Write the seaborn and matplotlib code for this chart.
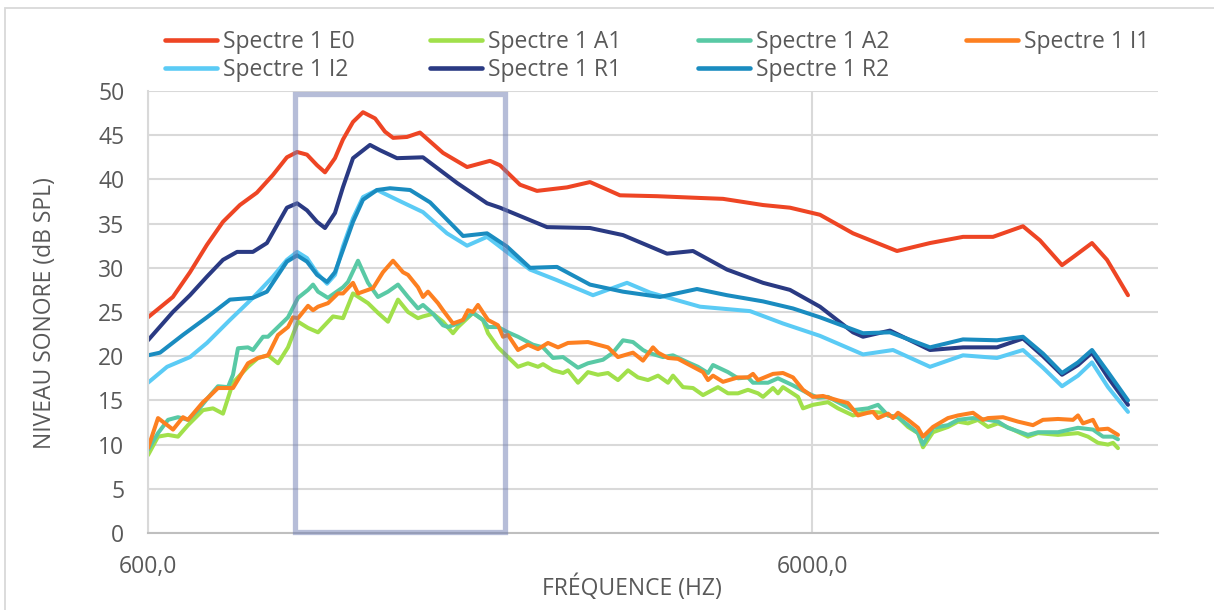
import numpy as np
import pandas as pd
import matplotlib
matplotlib.use("Agg")
import matplotlib.pyplot as plt
import seaborn as sns
from matplotlib.patches import Rectangle
from matplotlib.ticker import NullLocator

# ---------------- data ----------------
series_names = ["Spectre 1 E0", "Spectre 1 A1", "Spectre 1 A2", "Spectre 1 I1",
                "Spectre 1 I2", "Spectre 1 R1", "Spectre 1 R2"]
series_colors = ["#EE4524", "#A1E04B", "#59C9A5", "#FD8021",
                 "#5BCBF5", "#2A3A83", "#1A8CC0"]

e0_freq = [600, 654, 694, 736, 778, 825, 875, 925, 971, 1006, 1041, 1078, 1108, 1147, 1179,
           1221, 1264, 1318, 1364, 1403, 1472, 1540,
           1668, 1813, 1963, 2032, 2178, 2310, 2564, 2776, 3080, 3502, 4065, 4402, 5057,
           5552, 6160, 6907, 8045, 9020, 10113, 11220, 12449, 13205, 14253, 14805, 15813,
           16658, 17245, 17914]
e0_level = [24.4, 26.7, 29.5, 32.6, 35.2, 37.1, 38.5, 40.5, 42.5, 43.1, 42.8, 41.6, 40.8, 42.4, 44.5,
            46.5, 47.6, 46.9, 45.4, 44.7, 44.8, 45.3,
            43.0, 41.4, 42.1, 41.6, 39.4, 38.7, 39.1, 39.7, 38.2, 38.1, 37.9, 37.8, 37.1,
            36.8, 36.0, 33.9, 31.9, 32.8, 33.5, 33.5, 34.7, 33.1, 30.3, 31.2, 32.8,
            30.9, 29.0, 26.9]

r1_freq = [600, 654, 694, 736, 778, 817, 863, 906, 971, 1006, 1041, 1078, 1108, 1147, 1179,
           1221, 1295, 1341, 1422, 1556, 1751,
           1943, 2032, 2392, 2776, 3112, 3625, 3967, 4463, 5057, 5552, 6160, 6907, 7151,
           7852, 9020, 10113, 11377, 12449, 13342, 14253, 15064, 15813, 16715, 17914]
r1_level = [21.8, 25.0, 26.9, 29.0, 30.9, 31.8, 31.8, 32.8, 36.8, 37.3, 36.5, 35.2, 34.5, 36.2, 39.1,
            42.4, 43.9, 43.3, 42.4, 42.5, 39.6,
            37.3, 36.8, 34.6, 34.5, 33.7, 31.6, 31.9, 29.8, 28.3, 27.5, 25.6, 22.7, 22.2,
            22.9, 20.7, 21.0, 21.0, 22.0, 20.0, 17.9, 19.0, 20.4, 17.6, 14.5]

r2_freq = [600, 625.5, 677, 736, 797, 863, 906, 971, 1006, 1041, 1078, 1116, 1147, 1179,
           1221, 1264, 1327, 1388, 1488, 1595, 1788,
           1943, 2082, 2255, 2476, 2776, 3112, 3539, 4022, 4463, 5057, 5610, 6160, 7151,
           7852, 9020, 10113, 11377, 12449, 13342, 14253, 15064, 15813, 16715, 17914]
r2_level = [20.1, 20.4, 22.4, 24.4, 26.4, 26.6, 27.3, 30.7, 31.4, 30.7, 29.2, 28.4, 29.5, 32.0,
            35.2, 37.7, 38.8, 39.0, 38.8, 37.4, 33.6,
            33.9, 32.4, 30.0, 30.1, 28.1, 27.3, 26.7, 27.6, 26.9, 26.2, 25.4, 24.4, 22.6,
            22.7, 21.0, 21.9, 21.8, 22.2, 20.3, 18.1, 19.3, 20.7, 18.2, 15.0]

i2_freq = [600, 641, 694, 736, 797, 863, 925, 971, 1006, 1041, 1078, 1116, 1147, 1179,
           1221, 1264, 1327, 1422, 1556, 1691,
           1813, 1943, 2255, 2476, 2805, 3156, 3418, 4065, 4834, 5419, 6160, 7151, 7934,
           9020, 10113, 11377, 12449, 13342, 14253, 15064, 15813, 16715, 17914]
i2_level = [17.0, 18.8, 19.9, 21.5, 24.1, 26.6, 29.0, 30.9, 31.8, 31.1, 29.4, 28.2, 29.2, 32.4,
            35.6, 38.0, 38.8, 37.7, 36.3, 33.9,
            32.5, 33.5, 29.8, 28.6, 26.9, 28.3, 27.2, 25.6, 25.1, 23.7, 22.3, 20.2, 20.7,
            18.8, 20.1, 19.8, 20.7, 18.7, 16.6, 17.8, 19.3, 16.5, 13.7]

a1_freq = [600, 621.2, 643.1, 665.7, 689.2, 726.0, 751.6, 778.1, 805.5, 848.5,
           878.5, 909.4, 941.5, 974.7, 1009.1, 1044.7, 1081.5, 1139.2, 1179.4, 1221.0,
           1286.2, 1331.4, 1378.4, 1427.0, 1477.4, 1529.4, 1556.2, 1611.0, 1667.8, 1726.6,
           1757.0, 1850.6, 1915.8, 1949.4, 2018.2, 2089.4, 2163.0, 2239.2, 2318.2, 2358.8,
           2442, 2528.4, 2572.4, 2662.8, 2756.8, 2854, 2954.8, 3058.8, 3166.8, 3278.4,
           3394, 3514, 3637.6, 3701.2, 3831.6, 3966.8, 4107.2, 4326, 4478.4, 4636.4,
           4800, 4969.6, 5056.8, 5235.2, 5325.6, 5418.4, 5708, 5808, 6012.8, 6333.6,
           6556.8, 6906.4, 7151.2, 7402.4, 7663.2, 7797.6, 8072.8, 8357.6, 8652, 8803.2,
           9113.6, 9600, 9939.2, 10290, 10651, 11027, 11416, 12026, 12667, 13114,
           14056, 15064, 15595, 16146, 16715, 17008, 17304]
a1_level = [8.8, 10.9, 11.1, 10.9, 12.2, 13.9, 14.1, 13.5, 17.0, 18.8,
            19.8, 20.1, 19.2, 21.0, 23.9, 23.2, 22.7, 24.5, 24.3, 27.1,
            26.0, 24.9, 23.9, 26.4, 25.0, 24.3, 24.5, 24.8, 23.9, 22.6,
            23.3, 24.9, 24.1, 22.6, 21.0, 19.9, 18.8, 19.2, 18.8, 19.1,
            18.4, 18.1, 18.4, 17.0, 18.2, 17.9, 18.1, 17.3, 18.4, 17.6,
            17.3, 17.8, 17.0, 17.8, 16.5, 16.4, 15.6, 16.5, 15.8, 15.8,
            16.2, 15.8, 15.4, 16.4, 15.8, 16.5, 15.4, 14.1, 14.5, 14.8,
            14.1, 13.3, 13.6, 13.7, 13.6, 13.3, 13.1, 12.0, 11.3, 9.7,
            11.4, 12.0, 12.6, 12.4, 12.8, 12.0, 12.4, 11.7, 10.9, 11.3,
            11.1, 11.3, 10.9, 10.2, 10.0, 10.2, 9.6]

a2_freq = [600, 621.2, 643.1, 665.7, 689.2, 713.5, 738.7, 764.7, 791.7, 805.5,
           819.6, 848.5, 863.3, 893.9, 909.4, 941.5, 974.7, 1009.1, 1044.7, 1063.0,
           1081.5, 1119.6, 1179.4, 1200, 1242.4, 1286.2, 1331.4, 1378.4, 1427.0, 1477.4,
           1529.4, 1556.2, 1611.0, 1667.8, 1697.0, 1757.0, 1850.6, 1915.8, 1949.4, 2018.2,
           2089.4, 2163.0, 2278.4, 2358.8, 2442, 2528.4, 2662.8, 2756.8, 2904, 3006.4,
           3112.4, 3222, 3335.6, 3394, 3575.6, 3701.2, 3898.8, 4036.4, 4178.8, 4252,
           4478.4, 4636.4, 4800, 4884, 5144.8, 5325.6, 5610.4, 5909.6, 6117.6, 6333.6,
           6671.2, 6906.4, 7275.2, 7532, 7797.6, 8072.8, 8357.6, 8652, 8803.2, 9113.6,
           9600, 9939.2, 10470, 11027, 11416, 11819, 12667, 13114, 14056, 15064,
           15867, 16429, 17008, 17304]
a2_level = [9.4, 11.3, 12.8, 13.1, 12.8, 13.9, 15.3, 16.6, 16.5, 17.9,
            20.9, 21.0, 20.7, 22.2, 22.2, 23.3, 24.4, 26.6, 27.5, 28.1,
            27.3, 26.6, 27.8, 28.4, 30.8, 28.3, 26.7, 27.3, 28.1, 26.7,
            25.4, 25.8, 24.8, 23.5, 23.3, 23.7, 24.9, 24.1, 23.3, 23.3,
            22.7, 22.2, 21.3, 21.0, 19.8, 19.9, 18.7, 19.2, 19.6, 20.4,
            21.8, 21.6, 20.7, 20.4, 19.9, 20.1, 19.3, 18.8, 18.1, 19.0,
            18.2, 17.5, 17.6, 17.0, 17.0, 17.5, 16.7, 15.8, 15.3, 15.4,
            14.5, 13.9, 14.1, 14.5, 13.3, 13.1, 12.2, 11.3, 10.0, 11.9,
            12.2, 12.8, 13.0, 12.8, 12.6, 11.9, 11.1, 11.4, 11.4, 11.9,
            11.7, 10.9, 10.9, 10.6]

i1_freq = [600, 621.2, 654.4, 677.3, 689.2, 726.0, 738.7, 764.7, 805.5, 848.5,
           878.5, 909.4, 941.5, 974.7, 991.7, 1009.1, 1044.7, 1063.0, 1081.5, 1119.6,
           1159.1, 1179.4, 1221.0, 1242.4, 1286.2, 1308.8, 1354.6, 1402.6, 1452.0, 1477.4,
           1529.4, 1556.2, 1583.4, 1639.2, 1667.8, 1726.6, 1787.8, 1818.8, 1850.6, 1883.0,
           1949.4, 2018.2, 2053.6, 2089.4, 2163.0, 2239.2, 2318.2, 2400, 2484.8, 2572.4,
           2756.8, 2954.8, 3058.8, 3222, 3335.6, 3453.2, 3514, 3637.6, 3766, 3966.8,
           4107.2, 4178.8, 4252, 4401.6, 4636.4, 4800, 4884, 4969.6, 5235.2, 5418.4,
           5610.4, 5808, 6012.8, 6224.8, 6556.8, 6788, 7028, 7275.2, 7402.4, 7532,
           7797.6, 7933.6, 8072.8, 8357.6, 8652, 8803.2, 9113.6, 9600, 9939.2, 10470,
           10837, 11027, 11616, 12235, 12888, 13342, 14056, 14805, 15064, 15326,
           15867, 16146, 16715, 17304]
i1_level = [9.6, 13.0, 11.7, 13.1, 12.8, 14.8, 15.3, 16.4, 16.4, 19.2,
            19.8, 20.1, 22.4, 23.3, 24.4, 24.3, 25.7, 25.2, 25.6, 26.0,
            27.1, 27.1, 28.3, 27.1, 27.5, 27.7, 29.5, 30.8, 29.5, 29.2,
            27.8, 26.7, 27.3, 26.0, 25.2, 23.7, 24.1, 25.2, 25.0, 25.8,
            24.1, 23.5, 22.2, 22.4, 20.7, 21.3, 20.8, 21.5, 21.0, 21.5,
            21.6, 21.0, 19.9, 20.4, 19.5, 21.0, 20.4, 19.8, 19.7, 18.8,
            18.2, 17.3, 17.8, 17.1, 17.6, 17.6, 18.0, 17.3, 18.0, 18.1,
            17.6, 16.2, 15.4, 15.5, 15.0, 14.7, 13.3, 13.6, 13.7, 13.0,
            13.5, 13.0, 13.6, 12.8, 11.9, 10.9, 12.0, 13.0, 13.3, 13.6,
            12.8, 13.0, 13.1, 12.6, 12.2, 12.8, 12.9, 12.8, 13.3, 12.4,
            12.8, 11.7, 11.8, 11.1]

y_ticks = [0, 5, 10, 15, 20, 25, 30, 35, 40, 45, 50]
x_tick_values = [600, 6000]
x_tick_labels = ["600,0", "6000,0"]
x_range = [600, 19878]
y_range = [0, 50]
band_freq = [997, 2068]      # highlighted band (Hz)
band_level = [0.1, 49.7]
x_title = "FRÉQUENCE (HZ)"
y_title = "NIVEAU SONORE (dB SPL)"

# --------------- build table ---------------
all_freq = [e0_freq, a1_freq, a2_freq, i1_freq, i2_freq, r1_freq, r2_freq]
all_level = [e0_level, a1_level, a2_level, i1_level, i2_level, r1_level, r2_level]
frames = []
for name, f, v in zip(series_names, all_freq, all_level):
    frames.append(pd.DataFrame({"freq": f, "level": v, "serie": name}))
df = pd.concat(frames, ignore_index=True)

# --------------- style ---------------
sns.set_theme(style="white")
plt.rcParams["font.family"] = ["Open Sans", "DejaVu Sans"]
TXT = "#595959"
FS = 16.5

fig = plt.figure(figsize=(12.14, 6.10), dpi=100)
ax = fig.add_axes([148 / 1214, 1 - 533 / 610, 1010 / 1214, 442 / 610])

sns.lineplot(data=df, x="freq", y="level", hue="serie", hue_order=series_names,
             palette=dict(zip(series_names, series_colors)), sort=False,
             estimator=None, linewidth=2.9, ax=ax, legend=True)
for ln in ax.lines:
    ln.set_solid_joinstyle("round")
    ln.set_solid_capstyle("round")

ax.set_xscale("log")
ax.set_xlim(*x_range)
ax.set_ylim(*y_range)
ax.set_xticks(x_tick_values)
ax.set_xticklabels(x_tick_labels)
ax.xaxis.set_minor_locator(NullLocator())
ax.set_yticks(y_ticks)
ax.set_xlabel("")
ax.set_ylabel("")
ax.tick_params(axis="both", length=0, colors=TXT, labelsize=FS)
ax.tick_params(axis="y", pad=17)
ax.tick_params(axis="x", pad=16)
ax.grid(True, axis="y", color="#d9d9d9", linewidth=1.5, zorder=0)
ax.grid(True, axis="x", which="major", color="#d9d9d9", linewidth=1.5, zorder=0)
ax.set_axisbelow(True)
for s in ["top", "right"]:
    ax.spines[s].set_visible(False)
ax.spines["left"].set_color("#d9d9d9")
ax.spines["left"].set_linewidth(1.5)
ax.spines["bottom"].set_color("#bfbfbf")
ax.spines["bottom"].set_linewidth(1.5)

# highlighted band
ax.add_patch(Rectangle((band_freq[0], band_level[0]), band_freq[1] - band_freq[0],
                       band_level[1] - band_level[0], fill=False,
                       edgecolor="#6f7db3", alpha=0.5, linewidth=3.8, zorder=10,
                       clip_on=False))

# legend: 4 evenly spaced columns, row-major order
handles, labels = ax.get_legend_handles_labels()
ax.legend_.remove()
for h in handles:
    h.set_linewidth(3.3)
columns = [[0, 4], [1, 5], [2, 6], [3]]
col_x = [165, 430, 698, 966]
for idx, cx in zip(columns, col_x):
    fig.legend([handles[i] for i in idx], [labels[i] for i in idx], loc="upper left",
               bbox_to_anchor=(cx / 1214, 1 - 30 / 610), ncol=1, frameon=False,
               fontsize=FS, labelcolor=TXT, handlelength=2.25, handletextpad=0.3,
               labelspacing=0.16, borderpad=0, borderaxespad=0)

# axis titles
fig.text(45 / 1214, 1 - 313 / 610, y_title, rotation=90, ha="center", va="center",
         color=TXT, fontsize=FS)
fig.text(632 / 1214, 1 - 588 / 610, x_title, ha="center", va="center",
         color=TXT, fontsize=FS)

# chart-area border
fig.patches.append(Rectangle((5 / 1214, -0.1), 1.2, 1 - 8 / 610 + 0.1, fill=False,
                             edgecolor="#d9d9d9", linewidth=1.3,
                             transform=fig.transFigure, figure=fig))

fig.savefig("out.png", dpi=100)
